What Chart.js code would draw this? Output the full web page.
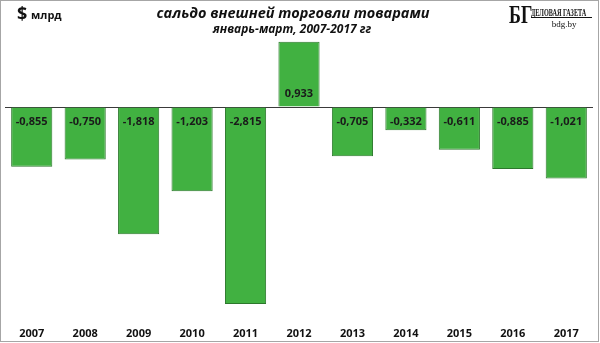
<!DOCTYPE html>
<html>
<head>
<meta charset="utf-8">
<script src="https://cdn.jsdelivr.net/npm/chart.js@4"></script>
<style>
    body { margin: 0; background: #fff; }
    #wrap { position: relative; width: 600px; height: 343px; }
</style>
</head>
<body>
<div id="wrap"><canvas id="chartSaldo"></canvas></div>
<script>
const YEARS = ['2007', '2008', '2009', '2010', '2011', '2012', '2013', '2014', '2015', '2016', '2017'];
const SALDO = [-0.855, -0.750, -1.818, -1.203, -2.815, 0.933, -0.705, -0.332, -0.611, -0.885, -1.021];

const TITLE = 'сальдо внешней торговли товарами';
const SUBTITLE = 'январь-март, 2007-2017 гг';

const BAR_FILL = '#41b141';
const BAR_EDGE = '#2c782c';

function formatValue(v) {
    return v.toFixed(3).replace('.', ',');
}

// values printed inside each bar, near the zero line
const valueLabels = {
    id: 'valueLabels',
    afterDatasetsDraw(chart) {
        const ctx = chart.ctx;
        const meta = chart.getDatasetMeta(0);
        ctx.save();
        ctx.font = 'bold 11px "Open Sans"';
        ctx.fillStyle = '#1a1a1a';
        ctx.textAlign = 'center';
        ctx.textBaseline = 'middle';
        meta.data.forEach((bar, i) => {
            let v = SALDO[i];
            let y = v < 0 ? bar.base + 14 : bar.base - 13;
            ctx.fillText(formatValue(v), bar.x, y);
        });
        ctx.restore();
    }
};

// heading, unit and masthead
const headings = {
    id: 'headings',
    afterDraw(chart) {
        const ctx = chart.ctx;
        ctx.save();

        ctx.fillStyle = '#111';
        ctx.textBaseline = 'alphabetic';
        ctx.textAlign = 'center';
        ctx.font = 'italic bold 14.5px "Open Sans"';
        ctx.fillText(TITLE, 293, 18);
        ctx.font = 'italic bold 12px "Open Sans"';
        ctx.fillText(SUBTITLE, 292, 33);

        ctx.textAlign = 'left';
        ctx.font = 'bold 18px "Open Sans"';
        ctx.fillText('$', 17, 20);
        ctx.font = 'bold 11px "Open Sans"';
        ctx.fillText('млрд', 31, 19);

        // masthead
        ctx.font = 'bold 25px "Liberation Serif"';
        ctx.save();
        ctx.translate(509, 23);
        ctx.scale(0.72, 1);
        ctx.fillText('БГ', 0, 0);
        ctx.restore();

        ctx.font = 'bold 10px "Liberation Serif"';
        ctx.save();
        ctx.translate(531, 16);
        ctx.scale(0.62, 1);
        ctx.fillText('ДЕЛОВАЯ ГАЗЕТА', 0, 0);
        ctx.restore();
        ctx.fillRect(531, 17, 61, 1);

        ctx.textAlign = 'center';
        ctx.font = '9px "Liberation Serif"';
        ctx.fillText('bdg.by', 564, 27);

        // frame
        ctx.strokeStyle = '#a6a6a6';
        ctx.lineWidth = 1;
        ctx.strokeRect(0.5, 0.5, 598, 341);
        ctx.restore();
    }
};

new Chart(document.getElementById('chartSaldo'), {
    type: 'bar',
    data: {
        labels: YEARS,
        datasets: [{
            data: SALDO,
            backgroundColor: BAR_FILL,
            borderColor: BAR_EDGE,
            borderWidth: 1,
            barPercentage: 0.77,
            categoryPercentage: 1
        }]
    },
    options: {
        responsive: true,
        maintainAspectRatio: false,
        animation: false,
        layout: { padding: { left: 5, right: 7, top: 37, bottom: 3 } },
        plugins: {
            legend: { display: false },
            tooltip: { enabled: false }
        },
        scales: {
            x: {
                grid: { display: false, drawTicks: false },
                border: { display: false },
                afterFit: scale => { scale.height = 23; },
                ticks: {
                    padding: 10,
                    color: '#111',
                    font: { family: 'Open Sans', weight: 'bold', size: 11 }
                }
            },
            y: {
                min: -3,
                max: 1,
                afterFit: scale => { scale.width = 0; },
                ticks: { display: false, stepSize: 1 },
                border: { display: false },
                grid: {
                    drawTicks: false,
                    color: ctx => ctx.tick && ctx.tick.value === 0 ? '#3a3a3a' : 'rgba(0,0,0,0)'
                }
            }
        }
    },
    plugins: [valueLabels, headings]
});
</script>
</body>
</html>
